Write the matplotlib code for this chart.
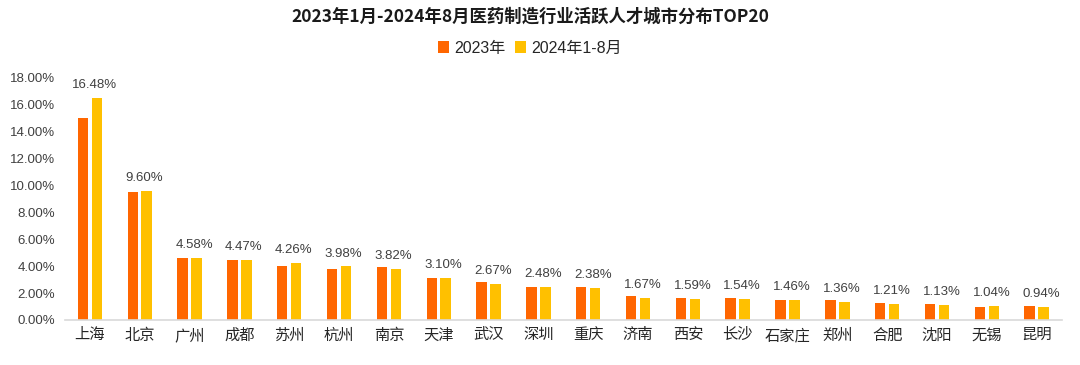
import matplotlib.pyplot as plt
import numpy as np

plt.rcParams['font.family'] = ['Liberation Sans', 'Noto Sans CJK SC']

cities = ["上海", "北京", "广州", "成都", "苏州", "杭州", "南京", "天津", "武汉", "深圳",
          "重庆", "济南", "西安", "长沙", "石家庄", "郑州", "合肥", "沈阳", "无锡", "昆明"]
y2023 = [15.02, 9.55, 4.62, 4.47, 3.98, 3.83, 3.95, 3.10, 2.79, 2.48,
         2.46, 1.80, 1.66, 1.61, 1.46, 1.50, 1.29, 1.20, 0.97, 1.03]
y2024 = [16.48, 9.60, 4.58, 4.47, 4.26, 3.98, 3.82, 3.10, 2.67, 2.48,
         2.38, 1.67, 1.59, 1.54, 1.46, 1.36, 1.21, 1.13, 1.04, 0.94]

fig = plt.figure(figsize=(10.8, 3.65), dpi=100)
ax = fig.add_axes([65 / 1080, 1 - 320 / 365, 996.6 / 1080, (320 - 78) / 365])

x = np.arange(len(cities))
w = 0.21
gap = 0.07
b1 = ax.bar(x - (w + gap) / 2, y2023, width=w, color="#FF6600", label="2023年")
b2 = ax.bar(x + (w + gap) / 2, y2024, width=w, color="#FFC000", label="2024年1-8月")

for xi, v in zip(x, y2024):
    ax.annotate(f"{v:.2f}%", (xi + (w + gap) / 2 - 0.05, v), xytext=(0, 5), textcoords="offset points",
                ha="center", va="bottom", fontsize=9.5, color="#404040", annotation_clip=False)

ax.set_xlim(-0.5, 19.5)
ax.set_ylim(0, 18)
ax.set_yticks(np.arange(0, 18.1, 2))
ax.set_yticklabels([f"{t:.2f}%" for t in np.arange(0, 18.1, 2)])
ax.set_xticks(x)
ax.set_xticklabels(cities)

for s in ["top", "right", "left"]:
    ax.spines[s].set_visible(False)
ax.spines["bottom"].set_color("#d9d9d9")
ax.spines["bottom"].set_linewidth(1.2)
ax.tick_params(axis="y", length=0, pad=7, labelsize=9.5, labelcolor="#404040")
ax.tick_params(axis="x", length=0, pad=6, labelsize=11, labelcolor="#262626")

fig.text(530 / 1080, 1 - 17 / 365, "2023年1月-2024年8月医药制造行业活跃人才城市分布TOP20",
         ha="center", va="center", fontsize=12.5, fontweight="bold", color="#1a1a1a",
         family=['Noto Sans CJK SC'])
fig.legend(handles=[b1, b2], loc="center", bbox_to_anchor=(530 / 1080, 1 - 48 / 365), ncol=2,
           frameon=False, fontsize=11.5, handlelength=0.7, handleheight=0.7,
           handletextpad=0.3, columnspacing=0.6, labelcolor="#262626")

fig.savefig("out.png", dpi=100, facecolor="white")
